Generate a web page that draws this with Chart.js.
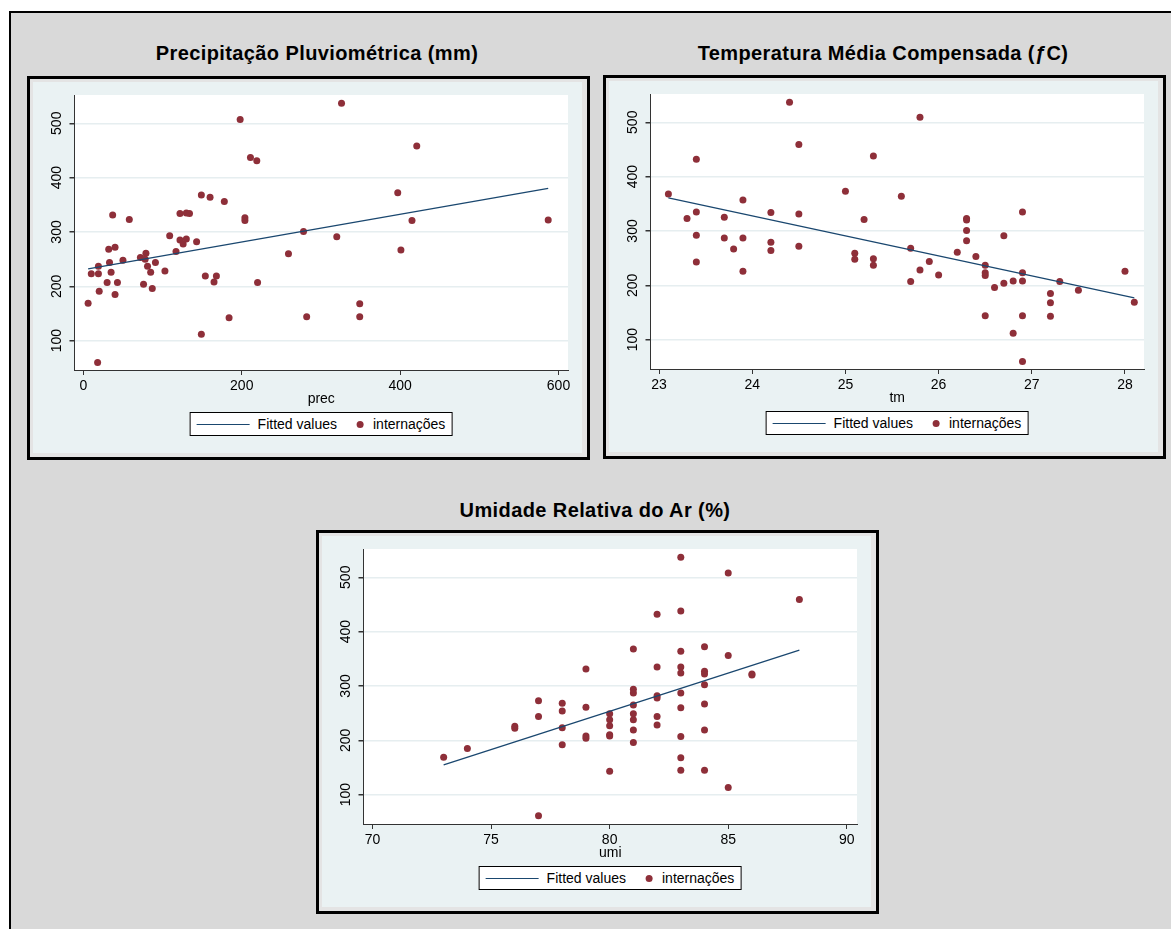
<!DOCTYPE html>
<html>
<head>
<meta charset="utf-8">
<script src="https://cdn.jsdelivr.net/npm/chart.js@4.4.1/dist/chart.umd.min.js"></script>
<style>
  html, body { margin: 0; padding: 0; background: #fff; }
  body { width: 1171px; height: 929px; position: relative; overflow: hidden; font-family: 'Liberation Sans', Arial, sans-serif; }
  #frame { position: absolute; left: 9px; top: 11px; right: 0; bottom: 0; border-left: 2px solid #000; border-top: 2px solid #000; background: #d9d9d9; }
  .title { position: absolute; width: 600px; text-align: center; font-weight: bold; font-size: 20px; line-height: 20px; letter-spacing: 0.4px; color: #000; white-space: nowrap; }
  .box { position: absolute; width: 557px; height: 378px; border: 3px solid #000; background: #e4e4e4; }
  .inner { position: absolute; left: 3px; top: 3px; width: 549px; height: 371px; background: #eaf2f3; }
  .inner canvas { position: absolute; left: 0; top: 0; }
  .legend { position: absolute; left: 288px; top: 330px; transform: translateX(-50%); height: 22px; border: 1px solid #000; background: #fff; display: flex; align-items: center; padding: 0 6px; font-size: 14px; white-space: nowrap; color: #000; }
  .mk-line { display: inline-block; width: 53px; height: 0; border-top: 1.3px solid #1a476f; margin-right: 8px; }
  .mk-dot { display: inline-block; width: 7px; height: 7px; border-radius: 50%; margin-left: 20px; margin-right: 9px; }
</style>
</head>
<body>
<div id="frame"></div>

<div class="title" style="left:17px; top:43px;">Precipitação Pluviométrica (mm)</div>
<div class="box" style="left:27px; top:76px;">
  <div class="inner">
    <canvas id="cPrec" width="549" height="326"></canvas>
    <div class="legend" id="lPrec"></div>
  </div>
</div>

<div class="title" style="left:583px; top:43px;">Temperatura Média Compensada (ƒC)</div>
<div class="box" style="left:603px; top:75px;">
  <div class="inner">
    <canvas id="cTm" width="549" height="326"></canvas>
    <div class="legend" id="lTm"></div>
  </div>
</div>

<div class="title" style="left:295px; top:500px;">Umidade Relativa do Ar (%)</div>
<div class="box" style="left:316px; top:530px;">
  <div class="inner">
    <canvas id="cUmi" width="549" height="326"></canvas>
    <div class="legend" id="lUmi"></div>
  </div>
</div>

<script>
// tick labels
const yTicks = [100, 200, 300, 400, 500];
const precTicks = [0, 200, 400, 600];
const tmTicks = [23, 24, 25, 26, 27, 28];
const umiTicks = [70, 75, 80, 85, 90];

// precipitação (prec) vs internações
const precX = [6, 10, 19, 19, 20, 18, 30, 32, 33, 35, 37, 40, 40, 43, 50, 58, 72, 76, 79, 78,
  81, 85, 87, 91, 103, 109, 117, 122, 122, 126, 130, 130, 134, 143, 149, 149, 154, 160, 168, 165,
  178, 184, 198, 204, 204, 211, 219, 220, 259, 278, 282, 326, 421, 397, 415, 320, 401, 349, 349, 587];
const precY = [169, 223, 223, 237, 191, 60, 207, 268, 244, 226, 331, 272, 185, 207, 248, 323, 253, 204, 261, 250,
  237, 226, 196, 244, 228, 293, 264, 334, 285, 278, 287, 335, 334, 282, 368, 112, 219, 364, 219, 208,
  356, 142, 507, 326, 321, 437, 431, 207, 260, 301, 144, 537, 458, 372, 321, 291, 267, 168, 144, 322];
const precFitX = [6, 587];
const precFitY = [232, 380];

// temperatura média (tm) vs internações
const tmX = [23.1, 23.3, 23.4, 23.4, 23.4, 23.4, 23.7, 23.7, 23.8, 23.9, 23.9, 23.9, 24.2, 24.2, 24.2, 24.4, 24.5, 24.5, 24.5, 25.0,
  25.1, 25.1, 25.2, 25.3, 25.3, 25.3, 25.8, 25.6, 25.7, 25.7, 25.8, 25.9, 26.0, 26.2, 26.3, 26.3, 26.3, 26.3, 26.4, 26.5,
  26.5, 26.5, 26.5, 26.6, 26.7, 26.7, 26.8, 26.8, 26.9, 26.9, 26.9, 26.9, 26.9, 27.2, 27.2, 27.2, 27.3, 27.5, 28.0, 28.1];
const tmY = [368, 323, 432, 335, 292, 243, 325, 287, 267, 357, 287, 226, 334, 279, 264, 537, 459, 331, 272, 373,
  259, 248, 321, 438, 249, 237, 509, 364, 268, 207, 228, 244, 219, 261, 323, 320, 301, 282, 253, 237,
  223, 218, 144, 196, 291, 204, 208, 112, 335, 223, 208, 144, 60, 185, 168, 143, 207, 191, 226, 169];
const tmFitX = [23.1, 28.1];
const tmFitY = [361, 177];

// umidade relativa (umi) vs internações
const umiX = [73, 74, 76, 76, 77, 77, 77, 78, 78, 78, 78, 79, 79, 79, 79, 80, 80, 80, 80, 80,
  80, 81, 81, 81, 81, 81, 81, 81, 81, 82, 82, 82, 82, 82, 82, 83, 83, 83, 83, 83,
  83, 83, 83, 83, 83, 84, 84, 84, 84, 84, 84, 84, 85, 85, 85, 86, 86, 88];
const umiY = [169, 185, 226, 222, 273, 244, 61, 268, 254, 223, 192, 331, 261, 208, 204, 249, 238, 227, 210, 208,
  143, 368, 294, 287, 265, 249, 238, 219, 196, 432, 335, 282, 278, 244, 228, 537, 438, 364, 335, 324,
  287, 260, 207, 168, 145, 372, 327, 322, 302, 267, 219, 145, 508, 356, 113, 322, 320, 459];
const umiFitX = [73, 88];
const umiFitY = [155, 366];

Chart.defaults.font.family = "'Liberation Sans', Arial, sans-serif";
Chart.defaults.font.size = 14;
Chart.defaults.color = '#000';

const plotBg = {
  id: 'plotBg',
  beforeDraw(chart) {
    const { ctx, chartArea: a } = chart;
    ctx.save();
    ctx.fillStyle = '#fff';
    ctx.fillRect(a.left, a.top, a.right - a.left, a.bottom - a.top);
    ctx.restore();
  }
};

// legend in a bordered html box, built from the datasets
const htmlLegend = {
  id: 'htmlLegend',
  afterUpdate(chart, args, opts) {
    const box = document.getElementById(opts.containerID);
    box.innerHTML = '';
    chart.data.datasets.forEach(ds => {
      const mark = document.createElement('span');
      if (ds.type === 'line') {
        mark.className = 'mk-line';
        mark.style.borderTopColor = ds.borderColor;
      } else {
        mark.className = 'mk-dot';
        mark.style.background = ds.backgroundColor;
      }
      const txt = document.createElement('span');
      txt.textContent = ds.label;
      box.appendChild(mark);
      box.appendChild(txt);
    });
  }
};

function toPoints(xs, ys) {
  return xs.map((x, i) => ({ x: x, y: ys[i] }));
}

function makePanel(canvasId, legendId, xs, ys, fitX, fitY, xMin, xMax, xTicks, xTitle) {
  new Chart(document.getElementById(canvasId), {
    type: 'scatter',
    data: {
      datasets: [
        {
          type: 'line',
          label: 'Fitted values',
          data: toPoints(fitX, fitY),
          borderColor: '#1a476f',
          borderWidth: 1.3,
          pointRadius: 0,
          fill: false
        },
        {
          type: 'scatter',
          label: 'internações',
          data: toPoints(xs, ys),
          backgroundColor: '#8e2f39',
          borderWidth: 0,
          pointRadius: 3.5
        }
      ]
    },
    options: {
      responsive: false,
      animation: false,
      layout: { padding: { top: 13, right: 14, left: 0, bottom: 0 } },
      plugins: {
        legend: { display: false },
        tooltip: { enabled: false },
        htmlLegend: { containerID: legendId }
      },
      scales: {
        x: {
          type: 'linear',
          min: xMin,
          max: xMax,
          afterBuildTicks: s => { s.ticks = xTicks.map(v => ({ value: v })); },
          afterFit: s => { s.height = 38; },
          grid: { drawOnChartArea: false, drawTicks: true, tickLength: 5, tickColor: '#333' },
          border: { color: '#333', width: 1 },
          ticks: { padding: 3, maxRotation: 0, autoSkip: false, color: '#000' },
          title: { display: true, text: xTitle, padding: 0, color: '#000' }
        },
        y: {
          type: 'linear',
          min: 46,
          max: 552,
          afterBuildTicks: s => { s.ticks = yTicks.map(v => ({ value: v })); },
          afterFit: s => { s.width = 41.5; },
          grid: { color: '#e6eef0', lineWidth: 1.5, tickLength: 5, tickColor: '#333' },
          border: { color: '#333', width: 1 },
          ticks: { padding: 1, minRotation: 90, maxRotation: 90, crossAlign: 'center', color: '#000' }
        }
      }
    },
    plugins: [plotBg, htmlLegend]
  });
}

makePanel('cPrec', 'lPrec', precX, precY, precFitX, precFitY, -11.2, 612, precTicks, 'prec');
makePanel('cTm', 'lTm', tmX, tmY, tmFitX, tmFitY, 22.908, 28.204, tmTicks, 'tm');
makePanel('cUmi', 'lUmi', umiX, umiY, umiFitX, umiFitY, 69.62, 90.43, umiTicks, 'umi');
</script>
</body>
</html>
